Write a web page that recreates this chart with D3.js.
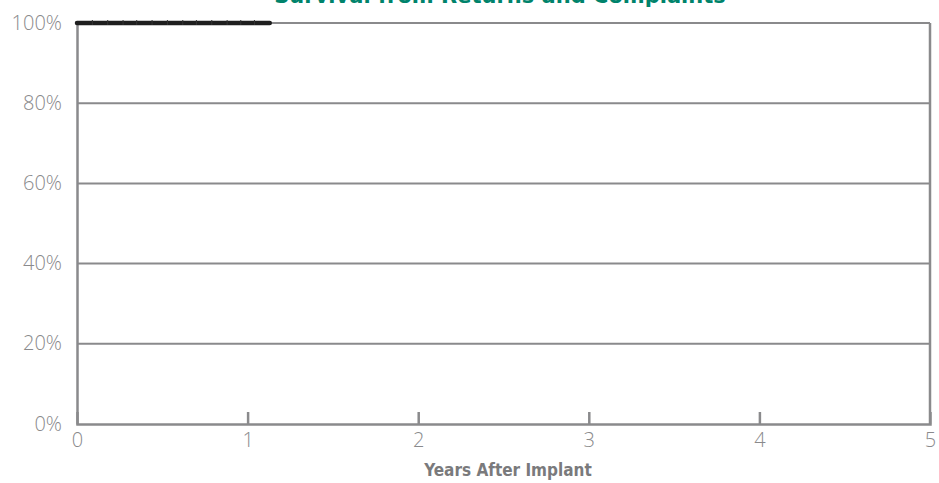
<!DOCTYPE html>
<html><head><meta charset="utf-8">
<script src="https://cdn.jsdelivr.net/npm/d3@7"></script>
<style>body{margin:0;background:#fff}svg{display:block}</style>
</head><body>
<script>
const title = "Survival from Returns and Complaints";
const xLabel = "Years After Implant";
const xTicks = [0, 1, 2, 3, 4, 5];
const yTicks = [0, 20, 40, 60, 80, 100];
const survTime = [0, 1.13];
const survPct = [100, 100];
const censorTimes = [0.09, 0.18, 0.27, 0.35, 0.44, 0.53, 0.62, 0.70, 0.79, 0.88, 0.96, 1.04];

const W = 939, H = 483;
const m = {l: 77, r: 9, t: 23, b: 59};
const svg = d3.select("body").append("svg").attr("width", W).attr("height", H);
const x = d3.scaleLinear().domain([0, 5]).range([m.l, W - m.r]);
const y = d3.scaleLinear().domain([0, 100]).range([H - m.b, m.t]);
const grey = "#8a8a8c";
const labelGrey = "#8a8a8c";
const font = "'Open Sans', Lato, sans-serif";

// gridlines
svg.append("g").selectAll("line").data(yTicks.filter(d => d > 0)).join("line")
  .attr("x1", x(0)).attr("x2", x(5)).attr("y1", d => y(d)).attr("y2", d => y(d))
  .attr("stroke", grey).attr("stroke-width", 2);

// right border
svg.append("line").attr("x1", x(5)).attr("x2", x(5)).attr("y1", y(0)).attr("y2", y(100))
  .attr("stroke", grey).attr("stroke-width", 2.5);

// y axis
const yAxis = svg.append("g").attr("transform", `translate(${x(0)},0)`)
  .call(d3.axisLeft(y).tickValues(yTicks).tickFormat(d => d + "%").tickSize(0).tickPadding(15));
yAxis.select(".domain").attr("stroke", grey).attr("stroke-width", 2.5);
yAxis.selectAll("text").attr("fill", labelGrey).style("font-family", font).style("font-size", "20px").style("font-weight", 300).attr("dy", "0.3em");

// x axis
const xAxis = svg.append("g").attr("transform", `translate(0,${y(0)})`)
  .call(d3.axisBottom(x).tickValues(xTicks).tickFormat(d3.format("d")).tickSize(-12).tickPadding(6));
xAxis.select(".domain").attr("stroke", grey).attr("stroke-width", 2.5);
xAxis.selectAll(".tick line").attr("stroke", grey).attr("stroke-width", 2.5)
  .attr("display", d => (d === 0 || d === 5) ? "none" : null);
xAxis.selectAll("text").attr("fill", labelGrey).style("font-family", font).style("font-size", "20px").style("font-weight", 300).attr("dy", "0.85em");

// survival line
const pts = survTime.map((t, i) => [t, survPct[i]]);
svg.append("path").datum(pts)
  .attr("d", d3.line().curve(d3.curveStepAfter).x(d => x(d[0])).y(d => y(d[1])))
  .attr("fill", "none").attr("stroke", "#1e1e1e").attr("stroke-width", 4.5).attr("stroke-linecap", "round");

// censor marks
svg.append("g").selectAll("line").data(censorTimes).join("line")
  .attr("x1", d => x(d)).attr("x2", d => x(d)).attr("y1", y(100) - 3).attr("y2", y(100) + 2)
  .attr("stroke", "#333").attr("stroke-width", 1);

// title
svg.append("text").attr("x", 500).attr("y", 3).attr("text-anchor", "middle")
  .attr("fill", "#00836b").style("font-family", "'DejaVu Sans', sans-serif")
  .style("font-size", "21px").style("font-weight", "bold").text(title);

// x label
svg.append("text").attr("x", 508).attr("y", 476).attr("text-anchor", "middle")
  .attr("fill", "#7a7a7c").style("font-family", "'DejaVu Sans Condensed', 'DejaVu Sans', sans-serif")
  .style("font-stretch", "condensed")
  .style("font-size", "17px").style("font-weight", "bold").text(xLabel);
</script>
</body></html>
